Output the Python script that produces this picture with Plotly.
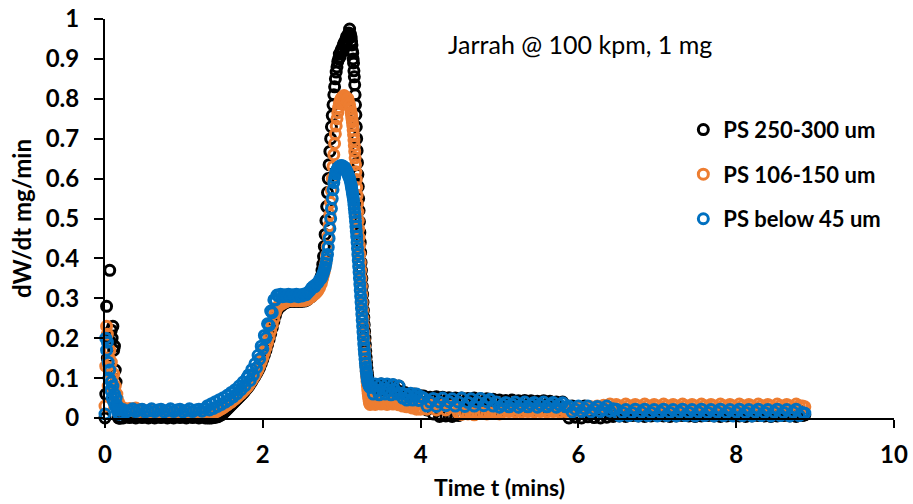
import plotly.graph_objects as go

# Sampling times (min)
T = [
    0.00, 0.01, 0.02, 0.03, 0.04, 0.05, 0.06, 0.07, 0.08, 0.09, 0.10, 0.11, 0.12, 0.13, 0.14, 0.15, 0.16, 0.17, 0.18, 0.19, 0.20,
    0.23, 0.27, 0.31, 0.35, 0.39, 0.43, 0.47, 0.51, 0.55, 0.59, 0.63, 0.67, 0.71, 0.75, 0.79, 0.83, 0.87, 0.91, 0.95, 0.99,
    1.03, 1.07, 1.11, 1.15, 1.19, 1.23, 1.27,
    1.30, 1.325, 1.35, 1.375, 1.40, 1.425, 1.45, 1.475, 1.50, 1.525, 1.55, 1.575, 1.60, 1.625, 1.65, 1.675, 1.70, 1.725,
    1.75, 1.775, 1.80,
    1.82, 1.84, 1.86, 1.88, 1.90, 1.92, 1.94, 1.96, 1.98, 2.00, 2.02, 2.04, 2.06, 2.08, 2.10, 2.12, 2.14, 2.16, 2.18, 2.20,
    2.225, 2.25, 2.275, 2.30, 2.325, 2.35, 2.375, 2.40, 2.425, 2.45, 2.475, 2.50, 2.525, 2.55, 2.575, 2.60,
    2.62, 2.64, 2.66, 2.68, 2.70, 2.72, 2.74,
    2.75, 2.76, 2.77, 2.78, 2.79, 2.80, 2.81, 2.82, 2.83, 2.84, 2.85, 2.86, 2.87, 2.88, 2.89, 2.90, 2.91, 2.92, 2.93,
    2.94, 2.95, 2.96, 2.97, 2.98, 2.99, 3.00, 3.01, 3.02, 3.03, 3.04, 3.05, 3.06, 3.07, 3.08, 3.09, 3.10, 3.11, 3.12,
    3.125, 3.13, 3.135, 3.14, 3.145, 3.15, 3.155, 3.16, 3.165, 3.17, 3.175, 3.18, 3.185, 3.19, 3.195, 3.20,
    3.205, 3.21, 3.215, 3.22, 3.225, 3.23, 3.235, 3.24, 3.245, 3.25, 3.255, 3.26, 3.265, 3.27, 3.275, 3.28,
    3.285, 3.29, 3.295, 3.30, 3.305, 3.31, 3.315, 3.32, 3.325, 3.33, 3.335, 3.34, 3.345, 3.35, 3.355, 3.36,
    3.375, 3.40, 3.425, 3.45, 3.475, 3.50, 3.525, 3.55, 3.575, 3.60, 3.625, 3.65, 3.675, 3.70, 3.725, 3.75,
    3.775, 3.80, 3.825, 3.85, 3.875, 3.90, 3.925, 3.95, 3.975, 4.00,
    4.04, 4.08, 4.12, 4.16, 4.20, 4.24, 4.28, 4.32, 4.36, 4.40,
    4.44, 4.48, 4.52, 4.56, 4.60, 4.64, 4.68, 4.72, 4.76, 4.80,
    4.84, 4.88, 4.92, 4.96, 5.00, 5.04, 5.08, 5.12, 5.16, 5.20,
    5.24, 5.28, 5.32, 5.36, 5.40, 5.44, 5.48, 5.52, 5.56, 5.60,
    5.64, 5.68, 5.72, 5.76, 5.80, 5.84, 5.88, 5.92, 5.96, 6.00,
    6.04, 6.08, 6.12, 6.16, 6.20, 6.24, 6.28, 6.32, 6.36, 6.40,
    6.44, 6.48, 6.52, 6.56, 6.60, 6.64, 6.68, 6.72, 6.76, 6.80,
    6.84, 6.88, 6.92, 6.96, 7.00, 7.04, 7.08, 7.12, 7.16, 7.20,
    7.24, 7.28, 7.32, 7.36, 7.40, 7.44, 7.48, 7.52, 7.56, 7.60,
    7.64, 7.68, 7.72, 7.76, 7.80, 7.84, 7.88, 7.92, 7.96, 8.00,
    8.04, 8.08, 8.12, 8.16, 8.20, 8.24, 8.28, 8.32, 8.36, 8.40,
    8.44, 8.48, 8.52, 8.56, 8.60, 8.64, 8.68, 8.72, 8.76, 8.80,
    8.84, 8.87,
]

# dW/dt (mg/min) - PS 250-300 um
Y_250_300 = [
    0.0, 0.06, 0.28, 0.15, 0.2, 0.13, 0.37, 0.19, 0.22, 0.2, 0.23, 0.17, 0.18, 0.12, 0.09, 0.05, 0.02, 0.0, 0.0, 0.0, 0.0,
    0.0, 0.004, 0.001, 0.003, 0.0, 0.004, 0.001, 0.003, 0.0, 0.004, 0.0, 0.003, 0.001, 0.004, 0.0, 0.003, 0.0, 0.004, 0.001, 0.003,
    0.0, 0.004, 0.001, 0.003, 0.0, 0.003, 0.0,
    0.0, 0.0, 0.0, 0.001, 0.002, 0.003, 0.005, 0.008, 0.012, 0.017, 0.022, 0.027, 0.032, 0.037, 0.042, 0.047, 0.052, 0.057,
    0.062, 0.068, 0.074,
    0.079, 0.085, 0.091, 0.098, 0.104, 0.111, 0.118, 0.126, 0.136, 0.147, 0.158, 0.170, 0.183, 0.197, 0.211, 0.226, 0.242, 0.256, 0.268, 0.277,
    0.28, 0.284, 0.288, 0.29, 0.292, 0.293, 0.292, 0.293, 0.292, 0.293, 0.292, 0.293, 0.293, 0.295, 0.298, 0.302,
    0.305, 0.309, 0.313, 0.319, 0.328, 0.34, 0.355,
    0.37, 0.385, 0.405, 0.43, 0.46, 0.495, 0.53, 0.565, 0.6, 0.635, 0.668, 0.7, 0.73, 0.758, 0.785, 0.81, 0.83, 0.85, 0.867,
    0.88, 0.893, 0.9, 0.912, 0.905, 0.92, 0.925, 0.918, 0.935, 0.94, 0.93, 0.948, 0.955, 0.945, 0.96, 0.965, 0.975, 0.962, 0.955,
    0.945, 0.935, 0.92, 0.915, 0.9, 0.89, 0.87, 0.855, 0.835, 0.81, 0.785, 0.76, 0.73, 0.7, 0.67, 0.64,
    0.61, 0.58, 0.55, 0.52, 0.492, 0.465, 0.44, 0.415, 0.39, 0.37, 0.35, 0.33, 0.31, 0.29, 0.27, 0.252,
    0.234, 0.217, 0.2, 0.184, 0.168, 0.153, 0.139, 0.126, 0.114, 0.104, 0.095, 0.088, 0.082, 0.077, 0.073, 0.07,
    0.068, 0.072, 0.078, 0.083, 0.072, 0.085, 0.078, 0.068, 0.084, 0.078, 0.068, 0.083, 0.075, 0.066, 0.08, 0.066,
    0.058, 0.064, 0.052, 0.06, 0.058, 0.048, 0.06, 0.054, 0.044, 0.056,
    0.055, 0.02, 0.052, 0.01, 0.053, 0.004, 0.052, 0.005, 0.051, 0.004,
    0.05, 0.006, 0.05, 0.02, 0.049, 0.022, 0.05, 0.02, 0.048, 0.022,
    0.048, 0.02, 0.047, 0.022, 0.045, 0.02, 0.044, 0.022, 0.045, 0.02,
    0.043, 0.021, 0.044, 0.02, 0.043, 0.022, 0.042, 0.02, 0.043, 0.021,
    0.042, 0.02, 0.04, 0.021, 0.04, 0.02, 0.0, 0.03, 0.002, 0.028,
    0.0, 0.03, 0.003, 0.027, 0.001, 0.028, 0.0, 0.027, 0.002, 0.025,
    0.004, 0.02, 0.005, 0.018, 0.004, 0.02, 0.006, 0.019, 0.005, 0.02,
    0.004, 0.018, 0.005, 0.02, 0.006, 0.019, 0.005, 0.02, 0.004, 0.018,
    0.005, 0.02, 0.006, 0.019, 0.005, 0.02, 0.004, 0.018, 0.005, 0.02,
    0.006, 0.019, 0.005, 0.02, 0.004, 0.018, 0.005, 0.02, 0.006, 0.019,
    0.005, 0.02, 0.004, 0.018, 0.005, 0.02, 0.006, 0.019, 0.005, 0.02,
    0.004, 0.018, 0.005, 0.02, 0.006, 0.019, 0.005, 0.02, 0.004, 0.018,
    0.006, 0.008,
]

# dW/dt (mg/min) - PS 106-150 um
Y_106_150 = [
    0.03, 0.13, 0.23, 0.21, 0.08, 0.15, 0.17, 0.12, 0.14, 0.1, 0.08, 0.11, 0.06, 0.08, 0.05, 0.06, 0.03, 0.04, 0.02, 0.03, 0.025,
    0.026, 0.02, 0.024, 0.018, 0.025, 0.016, 0.021, 0.015, 0.019, 0.014, 0.018, 0.013, 0.017, 0.012, 0.016, 0.012, 0.015, 0.012, 0.014, 0.012,
    0.013, 0.012, 0.014, 0.012, 0.013, 0.012, 0.013,
    0.012, 0.012, 0.012, 0.013, 0.015, 0.017, 0.02, 0.023, 0.026, 0.03, 0.033, 0.037, 0.04, 0.044, 0.048, 0.052, 0.057, 0.061,
    0.066, 0.071, 0.077,
    0.082, 0.088, 0.094, 0.1, 0.107, 0.114, 0.122, 0.131, 0.141, 0.152, 0.164, 0.176, 0.189, 0.203, 0.218, 0.233, 0.249, 0.264, 0.275, 0.282,
    0.284, 0.287, 0.29, 0.292, 0.294, 0.295, 0.294, 0.295, 0.294, 0.295, 0.294, 0.295, 0.295, 0.296, 0.298, 0.302,
    0.305, 0.308, 0.311, 0.315, 0.32, 0.327, 0.336,
    0.345, 0.352, 0.36, 0.368, 0.378, 0.39, 0.408, 0.43, 0.455, 0.482, 0.51, 0.54, 0.57, 0.6, 0.63, 0.66, 0.688, 0.712, 0.732,
    0.75, 0.765, 0.778, 0.788, 0.795, 0.8, 0.79, 0.805, 0.795, 0.808, 0.798, 0.805, 0.8, 0.796, 0.8, 0.79, 0.785, 0.775, 0.765,
    0.758, 0.75, 0.742, 0.733, 0.722, 0.71, 0.697, 0.683, 0.668, 0.652, 0.635, 0.617, 0.598, 0.578, 0.558, 0.537,
    0.516, 0.495, 0.474, 0.453, 0.432, 0.411, 0.39, 0.37, 0.35, 0.33, 0.31, 0.29, 0.27, 0.25, 0.232, 0.214,
    0.196, 0.178, 0.162, 0.146, 0.131, 0.117, 0.104, 0.092, 0.081, 0.071, 0.062, 0.054, 0.047, 0.041, 0.037, 0.034,
    0.036, 0.04, 0.034, 0.038, 0.04, 0.035, 0.038, 0.04, 0.034, 0.037, 0.04, 0.035, 0.038, 0.036, 0.033, 0.035,
    0.03, 0.033, 0.028, 0.03, 0.027, 0.025, 0.028, 0.022, 0.025, 0.022,
    0.035, 0.022, 0.03, 0.033, 0.02, 0.028, 0.032, 0.02, 0.027, 0.03,
    0.025, 0.012, 0.009, 0.014, 0.01, 0.012, 0.008, 0.013, 0.011, 0.012,
    0.01, 0.013, 0.011, 0.012, 0.01, 0.015, 0.02, 0.016, 0.021, 0.015,
    0.02, 0.015, 0.021, 0.016, 0.02, 0.015, 0.022, 0.016, 0.02, 0.015,
    0.021, 0.016, 0.02, 0.015, 0.022, 0.016, 0.02, 0.023, 0.018, 0.025,
    0.02, 0.026, 0.022, 0.028, 0.024, 0.03, 0.026, 0.032, 0.028, 0.035,
    0.027, 0.034, 0.03, 0.026, 0.035, 0.031, 0.027, 0.034, 0.03, 0.026,
    0.035, 0.031, 0.027, 0.034, 0.03, 0.026, 0.035, 0.031, 0.027, 0.034,
    0.03, 0.026, 0.035, 0.031, 0.027, 0.034, 0.03, 0.026, 0.035, 0.031,
    0.027, 0.034, 0.03, 0.026, 0.035, 0.031, 0.027, 0.034, 0.03, 0.026,
    0.035, 0.031, 0.027, 0.034, 0.03, 0.026, 0.035, 0.031, 0.027, 0.034,
    0.03, 0.026, 0.035, 0.031, 0.027, 0.034, 0.03, 0.026, 0.035, 0.031,
    0.03, 0.028,
]

# dW/dt (mg/min) - PS below 45 um
Y_below_45 = [
    0.01, 0.2, 0.17, 0.19, 0.14, 0.1, 0.12, 0.07, 0.09, 0.05, 0.08, 0.04, 0.06, 0.03, 0.05, 0.02, 0.03, 0.01, 0.02, 0.01, 0.02,
    0.021, 0.015, 0.019, 0.023, 0.016, 0.02, 0.022, 0.015, 0.018, 0.023, 0.016, 0.02, 0.022, 0.015, 0.019, 0.023, 0.016, 0.02, 0.022, 0.015,
    0.019, 0.023, 0.016, 0.02, 0.022, 0.017, 0.024,
    0.031, 0.02, 0.036, 0.024, 0.041, 0.029, 0.046, 0.034, 0.051, 0.04, 0.057, 0.046, 0.064, 0.053, 0.071, 0.061, 0.08, 0.071,
    0.09, 0.081, 0.101,
    0.108, 0.094, 0.121, 0.108, 0.136, 0.126, 0.157, 0.148, 0.18, 0.173, 0.207, 0.201, 0.236, 0.232, 0.268, 0.264, 0.296, 0.296, 0.308, 0.306,
    0.31, 0.304, 0.309, 0.305, 0.31, 0.304, 0.309, 0.306, 0.31, 0.304, 0.309, 0.306, 0.311, 0.309, 0.315, 0.32,
    0.326, 0.33, 0.329, 0.336, 0.339, 0.347, 0.35,
    0.355, 0.36, 0.365, 0.372, 0.378, 0.387, 0.398, 0.41, 0.428, 0.45, 0.475, 0.5, 0.525, 0.55, 0.572, 0.59, 0.602, 0.612, 0.618,
    0.622, 0.626, 0.628, 0.63, 0.632, 0.63, 0.633, 0.629, 0.631, 0.627, 0.628, 0.624, 0.62, 0.616, 0.61, 0.605, 0.6, 0.592, 0.583,
    0.578, 0.572, 0.565, 0.56, 0.553, 0.545, 0.535, 0.525, 0.515, 0.505, 0.493, 0.48, 0.468, 0.455, 0.44, 0.425,
    0.41, 0.395, 0.38, 0.365, 0.35, 0.335, 0.32, 0.305, 0.29, 0.275, 0.26, 0.245, 0.23, 0.215, 0.2, 0.185,
    0.172, 0.16, 0.148, 0.137, 0.127, 0.118, 0.11, 0.103, 0.097, 0.092, 0.088, 0.085, 0.082, 0.08, 0.078, 0.077,
    0.078, 0.06, 0.085, 0.07, 0.058, 0.086, 0.072, 0.06, 0.085, 0.07, 0.058, 0.084, 0.07, 0.06, 0.08, 0.062,
    0.05, 0.06, 0.045, 0.055, 0.062, 0.045, 0.055, 0.06, 0.044, 0.054,
    0.05, 0.03, 0.04, 0.049, 0.029, 0.04, 0.05, 0.031, 0.041, 0.048,
    0.03, 0.04, 0.05, 0.029, 0.039, 0.048, 0.03, 0.04, 0.049, 0.031,
    0.041, 0.047, 0.03, 0.04, 0.027, 0.033, 0.039, 0.028, 0.034, 0.04,
    0.027, 0.033, 0.04, 0.028, 0.034, 0.039, 0.027, 0.033, 0.04, 0.028,
    0.034, 0.039, 0.027, 0.033, 0.038, 0.028, 0.03, 0.015, 0.022, 0.03,
    0.016, 0.023, 0.03, 0.015, 0.022, 0.029, 0.016, 0.022, 0.03, 0.017,
    0.023, 0.022, 0.005, 0.014, 0.021, 0.006, 0.014, 0.022, 0.005, 0.015,
    0.022, 0.006, 0.014, 0.021, 0.005, 0.015, 0.022, 0.006, 0.014, 0.021,
    0.005, 0.015, 0.022, 0.006, 0.014, 0.021, 0.005, 0.015, 0.022, 0.006,
    0.014, 0.021, 0.005, 0.015, 0.022, 0.006, 0.014, 0.021, 0.005, 0.015,
    0.022, 0.006, 0.014, 0.021, 0.005, 0.015, 0.022, 0.006, 0.014, 0.021,
    0.005, 0.015, 0.022, 0.006, 0.014, 0.021, 0.005, 0.015, 0.022, 0.006,
    0.014, 0.012,
]

SERIES = [
    ("PS 250-300 um", Y_250_300, "#000000"),
    ("PS 106-150 um", Y_106_150, "#ED7D31"),
    ("PS below 45 um", Y_below_45, "#0070C0"),
]

for name, ys, _ in SERIES:
    assert len(ys) == len(T), (name, len(ys), len(T))

FONT = "Lato, 'Open Sans', sans-serif"

fig = go.Figure()
for i, (name, ys, col) in enumerate(SERIES):
    fig.add_trace(go.Scatter(
        x=T, y=ys, mode="markers", name=name, legendgroup=f"g{i}",
        marker=dict(symbol="circle-open", size=10, color=col, line=dict(width=3, color=col)),
        cliponaxis=False,
    ))

fig.update_layout(
    width=913, height=504,
    margin=dict(l=105, r=19, t=19, b=86),
    paper_bgcolor="white", plot_bgcolor="white",
    font=dict(family=FONT, size=24, color="black", weight="bold"),
    showlegend=True,
    legend=dict(
        x=0.733, y=0.775, xanchor="left", yanchor="top",
        font=dict(family=FONT, size=22, color="black", weight="bold"),
        bgcolor="rgba(0,0,0,0)", tracegroupgap=13, itemwidth=30,
    ),
    annotations=[dict(
        text="Jarrah @ 100 kpm, 1 mg", xref="paper", yref="paper",
        x=0.602, y=0.937, xanchor="center", yanchor="middle", showarrow=False,
        font=dict(family=FONT, size=25, color="black", weight="normal"),
    )],
)

fig.update_xaxes(
    range=[0, 10], dtick=2, tick0=0, automargin=False,
    showline=True, linecolor="black", linewidth=2,
    ticks="outside", ticklen=8, tickwidth=2, tickcolor="black",
    showgrid=False, zeroline=False, ticklabelstandoff=6,
    title=dict(text="Time t (mins)", font=dict(family=FONT, size=23, weight="bold"), standoff=13),
)
fig.update_yaxes(
    range=[0, 1], dtick=0.1, tick0=0, automargin=False,
    showline=True, linecolor="black", linewidth=2,
    ticks="outside", ticklen=9, tickwidth=2, tickcolor="black",
    showgrid=False, zeroline=False, ticklabelstandoff=10,
    title=dict(text="dW/dt mg/min", font=dict(family=FONT, size=24, weight="bold"), standoff=7),
)

fig.write_html("out.html")
